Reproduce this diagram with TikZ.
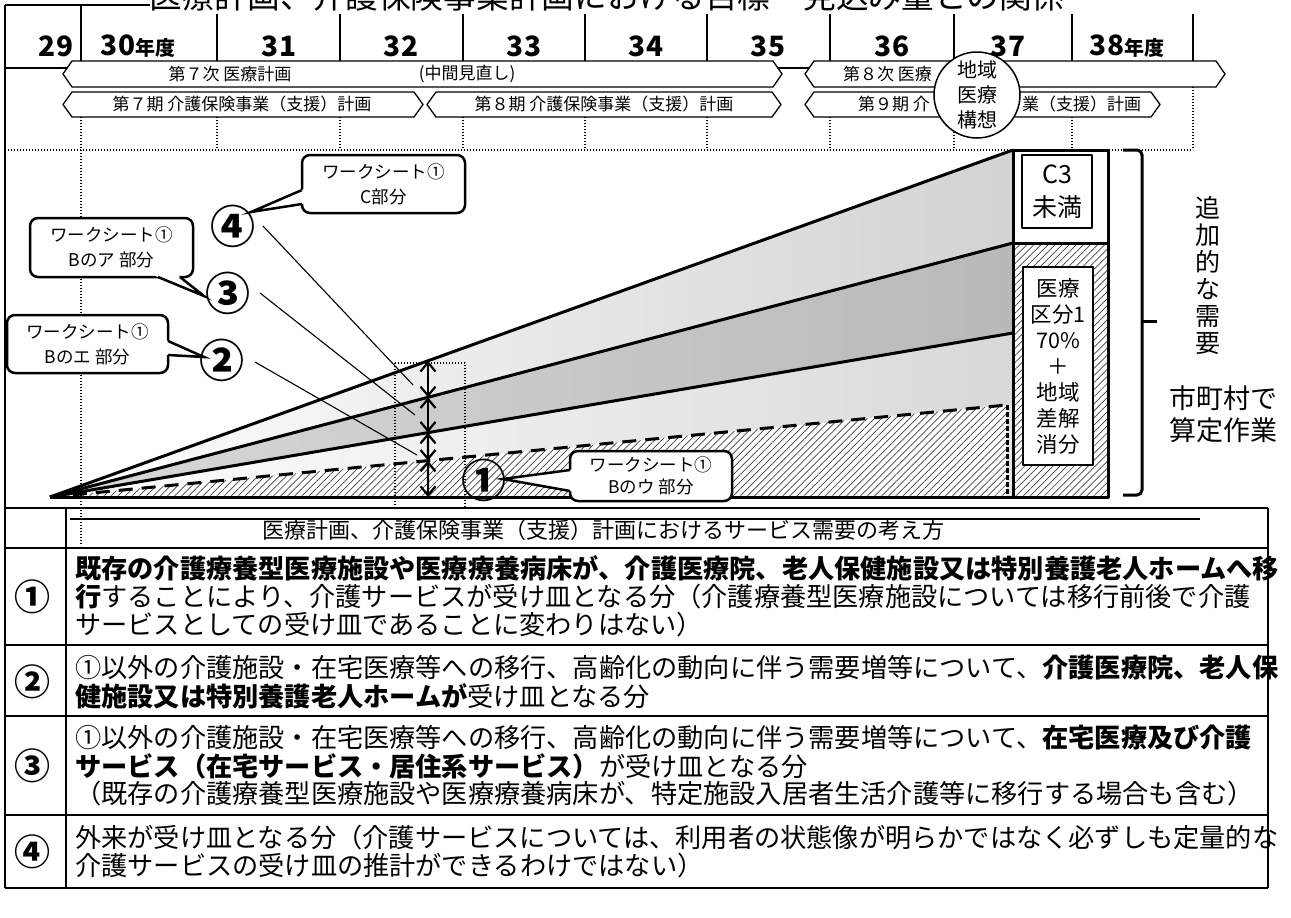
\documentclass[tikz,border=0pt]{standalone}
\usepackage{fontspec}
\setmainfont{Noto Sans CJK JP}
\usetikzlibrary{arrows.meta,patterns.meta,calc}
\tikzset{
  yr/.style={font=\fontsize{28}{28}\selectfont\bfseries,inner sep=0pt},
  planbox/.style={draw,line width=1.3pt,fill=white},
  plantxt/.style={font=\fontsize{17}{17}\selectfont,inner sep=0pt},
  callbox/.style={draw,line width=2.5pt,rounded corners=8pt,fill=white,
     font=\fontsize{17.5}{25}\selectfont,align=center,inner sep=0pt},
  circnum/.style={font=\fontsize{45}{45}\selectfont\bfseries,inner sep=0pt},
  tabnum/.style={font=\fontsize{36}{36}\selectfont\bfseries,inner sep=0pt},
  heavy/.style={line width=3pt},
  leader/.style={line width=1.1pt},
  dimarrow/.style={arrows={Straight Barb[length=9pt,width=15pt]-Straight Barb[length=9pt,width=15pt]},line width=2.2pt},
  dotline/.style={line width=1.4pt,dash pattern=on 1.4pt off 1.6pt},
  rowtxt/.style={font=\fontsize{26.2}{26.2}\selectfont,anchor=west,inner sep=0pt},
  tline/.style={line width=1.6pt},
  hatch/.style={pattern={Lines[angle=45,distance=5pt,line width=0.7pt]},pattern color=black!75},
}
\newcommand\calltail[3]{%
  \fill[white] ($(#3)!1.12!(#1)$) -- (#3) -- ($(#3)!1.12!(#2)$) -- cycle;
  \draw[line width=2.5pt,line join=miter] (#1) -- (#3) -- (#2);}
\begin{document}
\begin{tikzpicture}[x=1pt,y=-1pt,line join=round]
\useasboundingbox (0,0) rectangle (1291,918);
\fill[white] (0,0) rectangle (1291,918);

% ---------- title (cut at the top) ----------
\node[font=\fontsize{32.7}{32.7}\selectfont,anchor=base,inner sep=0pt] (title) at (607,9) {医療計画、介護保険事業計画における目標・見込み量との関係};

% ---------- year row ----------
\draw[tline] (5,5) -- (150,5);
\draw[tline] (5,5) -- (5,888);
\draw[tline] (81,5) -- (81,68);
\draw[tline] (5,68) -- (1193,68);
\foreach \x in {217,340,463,585,707,830,954,1072,1193}{\draw[tline] (\x,14) -- (\x,68);}
\node[yr] (y29) at (56,46) {29};
\node[yr] (y30) at (138,46) {30{\fontsize{20}{20}\selectfont 年度}};
\node[yr] (y31) at (279,46) {31};
\node[yr] (y32) at (401,46) {32};
\node[yr] (y33) at (524,46) {33};
\node[yr] (y34) at (646,46) {34};
\node[yr] (y35) at (768,46) {35};
\node[yr] (y36) at (892,46) {36};
\node[yr] (y37) at (1008,46) {37};
\node[yr] (y38) at (1127,46) {38{\fontsize{20}{20}\selectfont 年度}};

% dotted guide lines
\foreach \x in {217,340,463,585,707,830,954,1072}{\draw[dotline] (\x,117) -- (\x,150);}
\draw[dotline] (81,117) -- (81,546);
\draw[dotline] (1193,87) -- (1193,150);
\draw[dotline] (5,150) -- (1193,150);

% ---------- plan arrows ----------
\draw[planbox] (63,74) -- (72,61) -- (773,61) -- (782,74) -- (773,87) -- (72,87) -- cycle;
\draw[planbox] (805,74) -- (814,61) -- (1216,61) -- (1225,74) -- (1216,87) -- (814,87) -- cycle;
\draw[planbox] (63,104.5) -- (72,92) -- (414,92) -- (423,104.5) -- (414,117) -- (72,117) -- cycle;
\draw[planbox] (427,104.5) -- (436,92) -- (772,92) -- (781,104.5) -- (772,117) -- (436,117) -- cycle;
\draw[planbox] (805,104.5) -- (814,92) -- (1151,92) -- (1160,104.5) -- (1151,117) -- (814,117) -- cycle;
\node[plantxt] (p1) at (230,74) {第７次 医療計画};
\node[plantxt] (p2) at (467,74) {(中間見直し)};
\node[plantxt,anchor=east] (p3) at (932,74) {第８次 医療};
\node[plantxt] (p4) at (242,104.5) {第７期 介護保険事業（支援）計画};
\node[plantxt] (p5) at (604,104.5) {第８期 介護保険事業（支援）計画};
\node[plantxt,anchor=east] (p6a) at (930,104.5) {第９期 介};
\node[plantxt,anchor=west] (p6b) at (1022,104.5) {業（支援）計画};
\node[circle,draw,line width=1.5pt,fill=white,minimum size=86pt,inner sep=0pt,align=center,font=\fontsize{20}{25}\selectfont] (cir) at (977,95) {地域\\医療\\構想};

% ---------- chart ----------
\coordinate (O) at (50,497);
\coordinate (T) at (1013,150);
\coordinate (L2) at (1013,243);
\coordinate (L3) at (1013,333);
\coordinate (D) at (1007,405);
\coordinate (DR) at (1013,404);
\coordinate (B) at (1013,497);
\coordinate (DB) at (1007,497);

\shade[left color=white,right color=gray!35] (O) -- (T) -- (L2) -- cycle;
\shade[left color=gray!30,right color=gray!55] (O) -- (L2) -- (L3) -- cycle;
\shade[left color=white,right color=gray!30] (O) -- (L3) -- (DR) -- (D) -- cycle;
\fill[gray!20] (D) -- (DR) -- (B) -- (DB) -- cycle;
\fill[hatch] (O) -- (D) -- (DB) -- cycle;

% right bar
\fill[hatch] (1013,243) rectangle (1108,497);
\draw[heavy] (1013,150) rectangle (1108,497);
\draw[heavy] (1013,243) -- (1108,243);
\node[draw,line width=1.2pt,fill=white,minimum width=70pt,minimum height=73pt,inner sep=0pt,align=center,font=\fontsize{25}{33}\selectfont] (c3) at (1057,191.5) {C3\\未満};
\node[draw,line width=1.2pt,fill=white,minimum width=70pt,minimum height=198pt,inner sep=0pt,align=center,font=\fontsize{21.5}{26}\selectfont] (med) at (1058,366) {医療\\区分1\\70\%\\＋\\地域\\差解\\消分};

% lines of the fan
\draw[heavy] (O) -- (T);
\draw[heavy] (O) -- (L2);
\draw[heavy] (O) -- (L3);
\draw[heavy,dash pattern=on 14pt off 9pt] (O) -- (D);
\draw[heavy] (O) -- (B);
\draw[line width=3pt,dash pattern=on 5pt off 2pt] (D) -- (DB);

% measuring arrows
\coordinate (a0) at ($(O)!0.39252!(T)$);
\coordinate (a1) at ($(O)!0.39252!(L2)$);
\coordinate (a2) at ($(O)!0.39252!(L3)$);
\coordinate (a3) at ($(O)!0.39498!(D)$);
\coordinate (a4) at (428,497);
\draw[dotline] (395,363) rectangle (465,508);
\draw[dimarrow] (a0) -- (a1);
\draw[dimarrow] (a1) -- (a2);
\draw[dimarrow] (a2) -- (a3);
\draw[dimarrow] (a3) -- (a4);

% bracket and side texts
\draw[heavy,rounded corners=5pt] (1123,150) -- (1142,150) -- (1142,495) -- (1123,495);
\draw[heavy] (1142,321) -- (1157,321);
\node[align=center,inner sep=0pt,font=\fontsize{25}{27}\selectfont] (add) at (1208,275) {追\\加\\的\\な\\需\\要};
\node[align=center,inner sep=0pt,font=\fontsize{27}{32}\selectfont] (muni) at (1223,414) {市町村で\\算定作業};

% numbers and leader lines
\node[circnum] (n4) at (233,226) {④};
\node[circnum] (n3) at (228,293) {③};
\node[circnum] (n2) at (222,360) {②};
\node[circnum] (n1) at (484,480) {①};
\coordinate (e4) at (413,385);
\coordinate (e3) at (415,415);
\coordinate (e2) at (417,455);
\draw[leader] ($(n4.center)+(30,0)$) -- (e4);
\draw[leader] ($(n3.center)+(32,0)$) -- (e3);
\draw[leader] ($(n2.center)+(33,2)$) -- (e2);

% callouts
\node[callbox,minimum width=163pt,minimum height=58pt] (cC) at (383.5,184) {ワークシート①\\C部分};
\coordinate (cCb1) at (302,190);
\coordinate (cCb2) at (302,204);
\coordinate (cCt) at (251,212);
\calltail{cCb1}{cCb2}{cCt}

\node[callbox,minimum width=163pt,minimum height=59pt] (cA) at (111.5,247.5) {ワークシート①\\Bのア 部分};
\coordinate (cAb1) at (158,277);
\coordinate (cAb2) at (180,277);
\coordinate (cAt) at (204,296);
\calltail{cAb1}{cAb2}{cAt}

\node[callbox,minimum width=161pt,minimum height=58pt] (cE) at (87.5,344) {ワークシート①\\Bのエ 部分};
\coordinate (cEb1) at (168,341);
\coordinate (cEb2) at (168,355);
\coordinate (cEt) at (204,357);
\calltail{cEb1}{cEb2}{cEt}

\node[callbox,minimum width=162pt,minimum height=50pt,font=\fontsize{17.5}{22}\selectfont] (cU) at (651,476) {ワークシート①\\Bのウ 部分};
\coordinate (cUb1) at (570,470);
\coordinate (cUb2) at (570,491);
\coordinate (cUt) at (503,479);
\calltail{cUb1}{cUb2}{cUt}

% ---------- table ----------
\draw[tline] (5,508) -- (1268,508);
\draw[tline] (70,519) -- (1200,519);
\draw[tline] (5,548) -- (1268,548);
\draw[tline] (5,645) -- (1268,645);
\draw[tline] (5,716) -- (1268,716);
\draw[tline] (5,815) -- (1268,815);
\draw[tline] (5,888) -- (1268,888);
\draw[tline] (66,508) -- (66,888);
\draw[tline] (1268,508) -- (1268,888);
\node[font=\fontsize{22}{22}\selectfont,inner sep=0pt] (head) at (603,530) {医療計画、介護保険事業（支援）計画におけるサービス需要の考え方};

\node[tabnum] (t1) at (32,597) {①};
\node[tabnum] (t2) at (32,682) {②};
\node[tabnum] (t3) at (32,766) {③};
\node[tabnum] (t4) at (32,852) {④};

\node[rowtxt] (r1a) at (75,568) {\bfseries 既存の介護療養型医療施設や医療療養病床が、介護医療院、老人保健施設又は特別養護老人ホームへ移};
\node[rowtxt] (r1b) at (75,597) {{\bfseries 行}することにより、介護サービスが受け皿となる分（介護療養型医療施設については移行前後で介護};
\node[rowtxt] (r1c) at (75,625) {サービスとしての受け皿であることに変わりはない）};
\node[rowtxt] (r2a) at (75,668) {①以外の介護施設・在宅医療等への移行、高齢化の動向に伴う需要増等について、{\bfseries 介護医療院、老人保}};
\node[rowtxt] (r2b) at (75,696) {{\bfseries 健施設又は特別養護老人ホームが}受け皿となる分};
\node[rowtxt] (r3a) at (75,738) {①以外の介護施設・在宅医療等への移行、高齢化の動向に伴う需要増等について、{\bfseries 在宅医療及び介護}};
\node[rowtxt] (r3b) at (75,766) {{\bfseries サービス（在宅サービス・居住系サービス）}が受け皿となる分};
\node[rowtxt] (r3c) at (75,794) {（既存の介護療養型医療施設や医療療養病床が、特定施設入居者生活介護等に移行する場合も含む）};
\node[rowtxt] (r4a) at (75,838) {外来が受け皿となる分（介護サービスについては、利用者の状態像が明らかではなく必ずしも定量的な};
\node[rowtxt] (r4b) at (75,866) {介護サービスの受け皿の推計ができるわけではない）};
\end{tikzpicture}
\end{document}
